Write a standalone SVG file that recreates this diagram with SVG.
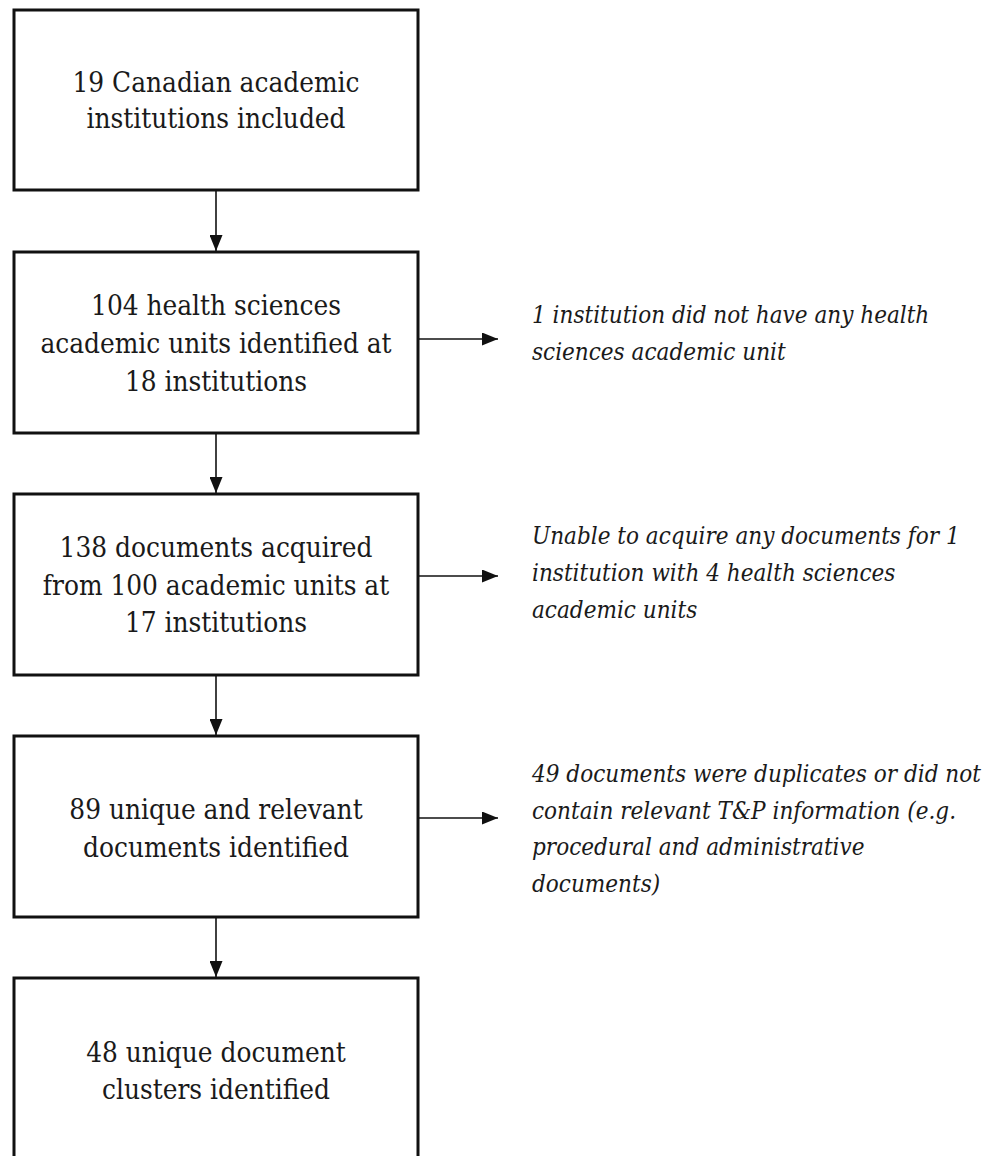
<svg xmlns="http://www.w3.org/2000/svg" width="990" height="1156" viewBox="0 0 990 1156">
<style>
.box{fill:#fff;stroke:#111;stroke-width:3}
.t{font-family:"DejaVu Serif Condensed","DejaVu Serif",serif;font-stretch:condensed;font-size:27.7px;fill:#1a1a1a;text-anchor:middle}
.n{font-family:"DejaVu Serif Condensed","DejaVu Serif",serif;font-stretch:condensed;font-size:24px;font-style:italic;fill:#1a1a1a}
.c{stroke:#111;stroke-width:1.6;fill:none}
</style>
<defs>
<marker id="ah" viewBox="0 0 16 13" refX="16" refY="6.5" markerWidth="16" markerHeight="13" markerUnits="userSpaceOnUse" orient="auto">
<path d="M0,0 L16,6.5 L0,13 Z" fill="#111"/>
</marker>
</defs>
<rect width="990" height="1156" fill="#fff"/>
<g id="connectors">
<line class="c" x1="216" y1="190" x2="216" y2="251" marker-end="url(#ah)"/>
<line class="c" x1="216" y1="433" x2="216" y2="493" marker-end="url(#ah)"/>
<line class="c" x1="216" y1="675" x2="216" y2="735" marker-end="url(#ah)"/>
<line class="c" x1="216" y1="917" x2="216" y2="977" marker-end="url(#ah)"/>
<line class="c" x1="418" y1="339" x2="498" y2="339" marker-end="url(#ah)"/>
<line class="c" x1="418" y1="576" x2="498" y2="576" marker-end="url(#ah)"/>
<line class="c" x1="418" y1="818" x2="498" y2="818" marker-end="url(#ah)"/>
</g>
<g id="node1">
<rect class="box" x="14" y="10" width="404" height="180"/>
<text class="t" x="216" y="92">19 Canadian academic</text>
<text class="t" x="216" y="128">institutions included</text>
</g>
<g id="node2">
<rect class="box" x="14" y="252" width="404" height="181"/>
<text class="t" x="216" y="315">104 health sciences</text>
<text class="t" x="216" y="353">academic units identified at</text>
<text class="t" x="216" y="391">18 institutions</text>
</g>
<g id="node3">
<rect class="box" x="14" y="494" width="404" height="181"/>
<text class="t" x="216" y="557">138 documents acquired</text>
<text class="t" x="216" y="595">from 100 academic units at</text>
<text class="t" x="216" y="632">17 institutions</text>
</g>
<g id="node4">
<rect class="box" x="14" y="736" width="404" height="181"/>
<text class="t" x="216" y="819">89 unique and relevant</text>
<text class="t" x="216" y="857">documents identified</text>
</g>
<g id="node5">
<rect class="box" x="14" y="978" width="404" height="181"/>
<text class="t" x="216" y="1062">48 unique document</text>
<text class="t" x="216" y="1099">clusters identified</text>
</g>
<g id="note1">
<text class="n" x="532" y="323">1 institution did not have any health</text>
<text class="n" x="532" y="360">sciences academic unit</text>
</g>
<g id="note2">
<text class="n" x="532" y="544">Unable to acquire any documents for 1</text>
<text class="n" x="532" y="581">institution with 4 health sciences</text>
<text class="n" x="532" y="618">academic units</text>
</g>
<g id="note3">
<text class="n" x="532" y="782">49 documents were duplicates or did not</text>
<text class="n" x="532" y="819">contain relevant T&amp;P information (e.g.</text>
<text class="n" x="532" y="855">procedural and administrative</text>
<text class="n" x="532" y="892">documents)</text>
</g>
</svg>
